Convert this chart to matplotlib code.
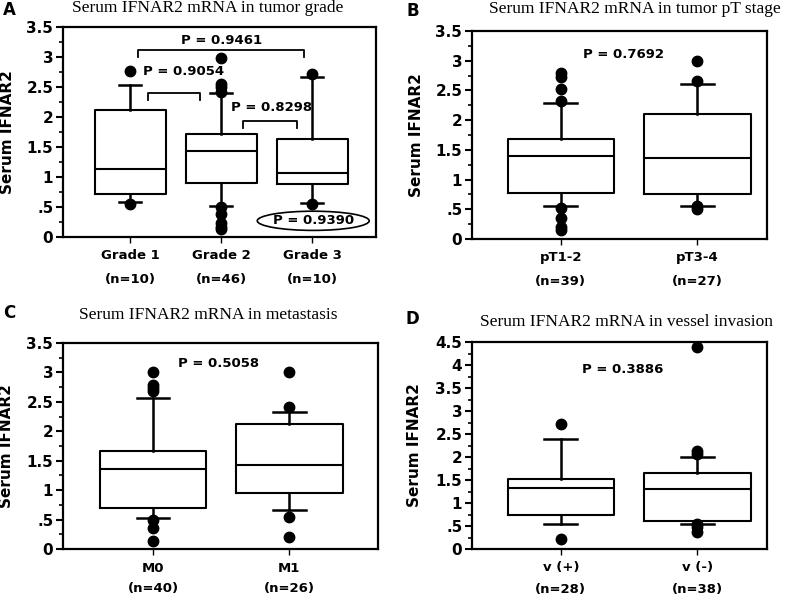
import matplotlib
matplotlib.use("Agg")
import matplotlib.pyplot as plt
from matplotlib.patches import Ellipse
from matplotlib.ticker import MultipleLocator, FuncFormatter

# ----- data -----
# A: tumor grade
grade_names = ["Grade 1", "Grade 2", "Grade 3"]
grade_n = [10, 46, 10]
grade_q1 = [0.72, 0.90, 0.88]
grade_med = [1.14, 1.43, 1.07]
grade_q3 = [2.11, 1.72, 1.64]
grade_wlo = [0.58, 0.51, 0.57]
grade_whi = [2.54, 2.40, 2.67]
grade_out = [[2.77, 0.55],
             [2.98, 2.55, 2.50, 2.42, 0.50, 0.38, 0.23, 0.17, 0.13],
             [2.72, 0.55]]

# B: pT stage
stage_names = ["pT1-2", "pT3-4"]
stage_n = [39, 27]
stage_q1 = [0.78, 0.76]
stage_med = [1.39, 1.36]
stage_q3 = [1.68, 2.11]
stage_wlo = [0.56, 0.56]
stage_whi = [2.29, 2.60]
stage_out = [[2.79, 2.73, 2.53, 2.32, 0.53, 0.36, 0.21, 0.15],
             [3.00, 2.66, 0.56, 0.50]]

# C: metastasis
meta_names = ["M0", "M1"]
meta_n = [40, 26]
meta_q1 = [0.69, 0.95]
meta_med = [1.36, 1.43]
meta_q3 = [1.67, 2.12]
meta_wlo = [0.53, 0.66]
meta_whi = [2.56, 2.32]
meta_out = [[3.01, 2.78, 2.74, 2.68, 0.50, 0.36, 0.14],
            [3.01, 2.42, 0.54, 0.20]]

# D: vessel invasion
vessel_names = ["v (+)", "v (-)"]
vessel_n = [28, 38]
vessel_q1 = [0.73, 0.60]
vessel_med = [1.33, 1.30]
vessel_q3 = [1.53, 1.65]
vessel_wlo = [0.55, 0.55]
vessel_whi = [2.39, 2.00]
vessel_out = [[2.72, 0.22],
              [4.39, 2.14, 2.07, 0.55, 0.47, 0.36]]

W, H = 787, 595
fig = plt.figure(figsize=(W / 100, H / 100), dpi=100)


def px_axes(left, top, right, bottom):
    return fig.add_axes([left / W, 1 - bottom / H, (right - left) / W, (bottom - top) / H])


def yfmt(v, pos):
    if abs(v) < 1e-9:
        return "0"
    s = "%g" % v
    return s[1:] if s.startswith("0.") else s


def panel(ax, names, ns, q1, med, q3, wlo, whi, out, ymax, xlim, ylabel_x, lsp):
    stats = []
    for i in range(len(names)):
        stats.append(dict(med=med[i], q1=q1[i], q3=q3[i], whislo=wlo[i],
                          whishi=whi[i], fliers=out[i]))
    pos = list(range(1, len(names) + 1))
    ax.bxp(stats, positions=pos, widths=0.78, capwidths=0.24, showfliers=True,
           boxprops=dict(color="black", linewidth=1.5),
           medianprops=dict(color="black", linewidth=1.5),
           whiskerprops=dict(color="black", linewidth=1.8),
           capprops=dict(color="black", linewidth=1.8),
           flierprops=dict(marker="o", markerfacecolor="black",
                           markeredgecolor="black", markersize=7.5))
    ax.set_xlim(*xlim)
    ax.set_ylim(0, ymax)
    ax.set_xticks(pos)
    ax.set_xticklabels(["%s\n(n=%d)" % (a, b) for a, b in zip(names, ns)],
                       fontsize=9.5, fontweight="bold", linespacing=lsp)
    ax.yaxis.set_major_locator(MultipleLocator(0.5))
    ax.yaxis.set_minor_locator(MultipleLocator(0.25))
    ax.yaxis.set_major_formatter(FuncFormatter(yfmt))
    for lab in ax.get_yticklabels():
        lab.set_fontweight("bold")
        lab.set_fontsize(11)
    ax.tick_params(axis="y", which="major", direction="out", length=5, width=1.5, pad=2)
    ax.tick_params(axis="y", which="minor", direction="out", length=3, width=1.2)
    ax.tick_params(axis="x", direction="out", length=4, width=1.0, pad=5)
    for sp in ax.spines.values():
        sp.set_linewidth(1.6)
    ax.set_ylabel("Serum IFNAR2", fontsize=11, fontweight="bold")
    ax.yaxis.set_label_coords(ylabel_x, 0.5)


title_kw = dict(family="Liberation Serif", fontsize=12.5, ha="center", va="center")
letter_kw = dict(fontsize=12, fontweight="bold", ha="center", va="center")
p_kw = dict(fontsize=9.5, fontweight="bold", ha="center", va="center")

# A
axA = px_axes(63, 27, 376, 237)
panel(axA, grade_names, grade_n, grade_q1, grade_med, grade_q3, grade_wlo,
      grade_whi, grade_out, 3.5, (0.26, 3.70), -0.153, 2.1)
axA.plot([1.08, 1.08, 2.91, 2.91], [3.0, 3.11, 3.11, 3.0], color="black", lw=1.3)
axA.text(2.0, 3.27, "P = 0.9461", **p_kw)
axA.plot([1.19, 1.19, 1.77, 1.77], [2.28, 2.40, 2.40, 2.28], color="black", lw=1.3)
axA.text(1.14, 2.76, "P = 0.9054", ha="left", va="center", fontsize=9.5, fontweight="bold")
axA.plot([2.24, 2.24, 2.83, 2.83], [1.82, 1.93, 1.93, 1.82], color="black", lw=1.3)
axA.text(2.11, 2.16, "P = 0.8298", ha="left", va="center", fontsize=9.5, fontweight="bold")
axA.add_patch(Ellipse((3.01, 0.27), 1.23, 0.32, fill=False, edgecolor="black", lw=1.2))
axA.text(3.01, 0.27, "P = 0.9390", **p_kw)
fig.text(208 / W, 1 - 8 / H, "Serum IFNAR2 mRNA in tumor grade", **title_kw)
fig.text(9 / W, 1 - 10 / H, "A", **letter_kw)

# B
axB = px_axes(472, 31, 767, 239)
panel(axB, stage_names, stage_n, stage_q1, stage_med, stage_q3, stage_wlo,
      stage_whi, stage_out, 3.5, (0.35, 2.51), -0.163, 2.0)
axB.text(1.46, 3.1, "P = 0.7692", **p_kw)
fig.text(635 / W, 1 - 9 / H, "Serum IFNAR2 mRNA in tumor pT stage", **title_kw)
fig.text(413 / W, 1 - 11 / H, "B", **letter_kw)

# C
axC = px_axes(63, 343, 378, 549)
panel(axC, meta_names, meta_n, meta_q1, meta_med, meta_q3, meta_wlo,
      meta_whi, meta_out, 3.5, (0.34, 2.65), -0.156, 1.75)
axC.text(1.48, 3.16, "P = 0.5058", **p_kw)
fig.text(208 / W, 1 - 315 / H, "Serum IFNAR2 mRNA in metastasis", **title_kw)
fig.text(9 / W, 1 - 313 / H, "C", **letter_kw)

# D
axD = px_axes(472, 342, 767, 549)
panel(axD, vessel_names, vessel_n, vessel_q1, vessel_med, vessel_q3, vessel_wlo,
      vessel_whi, vessel_out, 4.5, (0.35, 2.51), -0.17, 1.85)
axD.text(1.45, 3.9, "P = 0.3886", **p_kw)
fig.text(627 / W, 1 - 322 / H, "Serum IFNAR2 mRNA in vessel invasion", **title_kw)
fig.text(412 / W, 1 - 319 / H, "D", **letter_kw)

fig.savefig("out.png", dpi=100)
